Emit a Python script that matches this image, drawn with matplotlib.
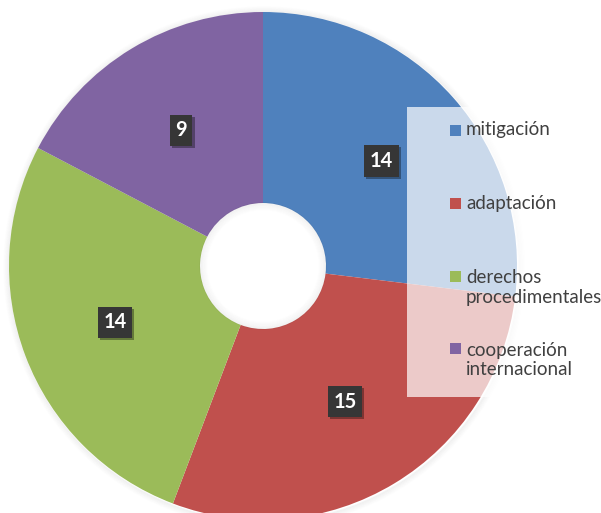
import matplotlib
matplotlib.use("Agg")
import matplotlib.pyplot as plt
from matplotlib.patches import Rectangle, Circle
import matplotlib.patheffects as pe

categories = ["mitigación", "adaptación", "derechos\nprocedimentales", "cooperación\ninternacional"]
values = [14, 15, 14, 9]
colors = ["#4F81BD", "#C0504D", "#9BBB59", "#8064A2"]

W, H = 601, 513
fig = plt.figure(figsize=(W / 100, H / 100), dpi=100)
ax = fig.add_axes([0, 0, 1, 1])

cx, cy = 263, H - 266
R, r_hole = 254, 63
total = sum(values)

# soft outer shadow
for k in range(1, 7):
    ax.add_patch(Circle((cx + 1, cy - 1), R + k, facecolor="none",
                        edgecolor="#000000", alpha=0.018 * (7 - k) / 3, lw=1.2, zorder=0))

wedges, texts, autotexts = ax.pie(
    values, colors=colors, startangle=90, counterclock=False,
    center=(cx, cy), radius=R,
    wedgeprops=dict(width=R - r_hole, edgecolor="none"),
    autopct=lambda p: f"{round(p * total / 100)}",
    pctdistance=(R + r_hole) / 2 / R,
    textprops=dict(color="white", fontweight="bold", fontsize=14.5, family="Lato"),
)
for w in wedges:
    w.set_zorder(1)

for t in autotexts:
    t.set_zorder(6)
    t.set_bbox(dict(boxstyle="square,pad=0.28", facecolor="#363636", edgecolor="none"))
    t.get_bbox_patch().set_path_effects([
        pe.SimplePatchShadow(offset=(1.5, -1.5), shadow_rgbFace="black", alpha=0.35),
        pe.Normal()])

# inner hole shadow (soft gradient)
for k in range(0, 8):
    ax.add_patch(Circle((cx, cy), r_hole - k, facecolor="none",
                        edgecolor="#000000", alpha=0.02 * (8 - k) / 4, lw=1.0, zorder=2))

# legend box
ax.add_patch(Rectangle((407, H - 397), W - 407, 290, facecolor="white",
                       alpha=0.7, edgecolor="none", zorder=3))
leg_y = [130, 203, 287.5, 360]
for cat, col, yy in zip(categories, colors, leg_y):
    nlines = cat.count("\n") + 1
    first = yy - (nlines - 1) * 23 / 2
    ax.add_patch(Rectangle((450, H - first - 5.5), 11, 11, facecolor=col,
                           edgecolor="none", zorder=4))
    ax.text(466, H - yy, cat, ha="left", va="center", fontsize=13.5,
            family="Lato", color="#404040", linespacing=1.2, zorder=4)

ax.set_xlim(0, W)
ax.set_ylim(0, H)
ax.set_aspect("equal")
ax.axis("off")
fig.savefig("out.png", dpi=100)
